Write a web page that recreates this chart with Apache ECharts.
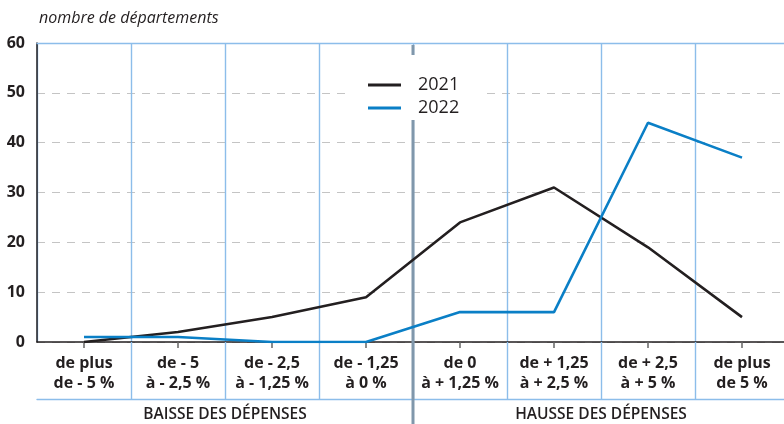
<!DOCTYPE html>
<html><head><meta charset="utf-8">
<script src="https://cdn.jsdelivr.net/npm/echarts@6/dist/echarts.min.js"></script>
<style>html,body{margin:0;padding:0;background:#fff}#c{width:784px;height:424px}</style>
</head><body><div id="c"></div>
<script>
const categories = ['de plus\nde - 5 %', 'de - 5\nà - 2,5 %', 'de - 2,5\nà - 1,25 %', 'de - 1,25\nà 0 %', 'de 0\nà + 1,25 %', 'de + 1,25\nà + 2,5 %', 'de + 2,5\nà + 5 %', 'de plus\nde 5 %'];
const groups = ['BAISSE DES DÉPENSES', 'HAUSSE DES DÉPENSES'];
const values2021 = [0, 2, 5, 9, 24, 31, 19, 5];
const values2022 = [1, 1, 0, 0, 6, 6, 44, 37];
const yTicks = [0, 10, 20, 30, 40, 50, 60];

const dark = '#231f20', blue = '#0a7fc6', gridBlue = '#8cbdea';
const font = '"Open Sans", Lato, sans-serif';
const chart = echarts.init(document.getElementById('c'), null, {renderer: 'canvas'});
chart.setOption({
  animation: false,
  backgroundColor: '#fff',
  textStyle: {fontFamily: font, color: dark},
  title: {text: 'nombre de départements', left: 34, top: 5,
    textStyle: {fontFamily: font, fontStyle: 'italic', fontWeight: 'normal', fontSize: 16, color: dark}},
  legend: {data: ['2021', '2022'], orient: 'vertical', left: 345, top: 55,
    padding: [21, 24, 3, 23], backgroundColor: '#fff', z: 10,
    icon: 'rect', itemWidth: 33, itemHeight: 3, itemGap: 5,
    textStyle: {fontFamily: font, fontSize: 18, lineHeight: 18, color: dark, padding: [0, 0, 0, 12]}},
  grid: {left: 37, width: 752, top: 43, bottom: 82, containLabel: false, outerBoundsMode: 'none'},
  xAxis: [
    {type: 'category', data: categories, position: 'bottom',
      axisLine: {show: true, lineStyle: {color: dark, width: 1.5}},
      axisTick: {show: true, alignWithLabel: true, length: 6, lineStyle: {color: '#666', width: 1.5}},
      axisLabel: {margin: 11, fontFamily: font, fontWeight: 'bold', fontSize: 16, lineHeight: 20, color: dark, interval: 0},
      splitLine: {show: true, lineStyle: {color: gridBlue, width: 1.4}}},
    {type: 'category', data: categories, position: 'bottom',
      axisLine: {show: false},
      axisTick: {show: true, length: 57, interval: (i) => i !== 0, lineStyle: {color: gridBlue, width: 1.4}},
      axisLabel: {show: false}, splitLine: {show: false}},
    {type: 'category', data: groups, position: 'bottom', offset: 57,
      axisLine: {show: true, lineStyle: {color: gridBlue, width: 1.4}},
      axisTick: {show: false},
      axisLabel: {margin: 8, fontFamily: font, fontWeight: 600, fontSize: 15.5, color: dark, interval: 0},
      splitLine: {show: false}},
    {type: 'category', data: categories, position: 'top',
      axisLine: {show: true, lineStyle: {color: gridBlue, width: 1.4}},
      axisTick: {show: false}, axisLabel: {show: false}, splitLine: {show: false}}
  ],
  yAxis: {type: 'value', min: yTicks[0], max: yTicks[yTicks.length - 1], interval: 10,
    axisLine: {show: true, lineStyle: {color: dark, width: 1.5}},
    axisTick: {show: false},
    axisLabel: {margin: 12, fontFamily: font, fontWeight: 'bold', fontSize: 16, color: dark, padding: [10, 0, 0, 0]},
    splitLine: {show: true, lineStyle: {color: '#c4c4c4', type: [8, 7], width: 1.2}}},
  series: [
    {name: '2021', type: 'line', data: values2021, symbol: 'none', z: 5,
      lineStyle: {color: dark, width: 2.6}, itemStyle: {color: dark}},
    {name: '2022', type: 'line', data: values2022, symbol: 'none', z: 5,
      lineStyle: {color: blue, width: 2.6}, itemStyle: {color: blue}}
  ]
});
const c3 = chart.convertToPixel({xAxisIndex: 0}, 3);
const c4 = chart.convertToPixel({xAxisIndex: 0}, 4);
const xm = (c3 + c4) / 2;
chart.setOption({graphic: [{type: 'line', z: 3, silent: true,
  shape: {x1: xm, y1: 45, x2: xm, y2: 424},
  style: {stroke: '#8097ab', lineWidth: 3}}]});
</script></body></html>
